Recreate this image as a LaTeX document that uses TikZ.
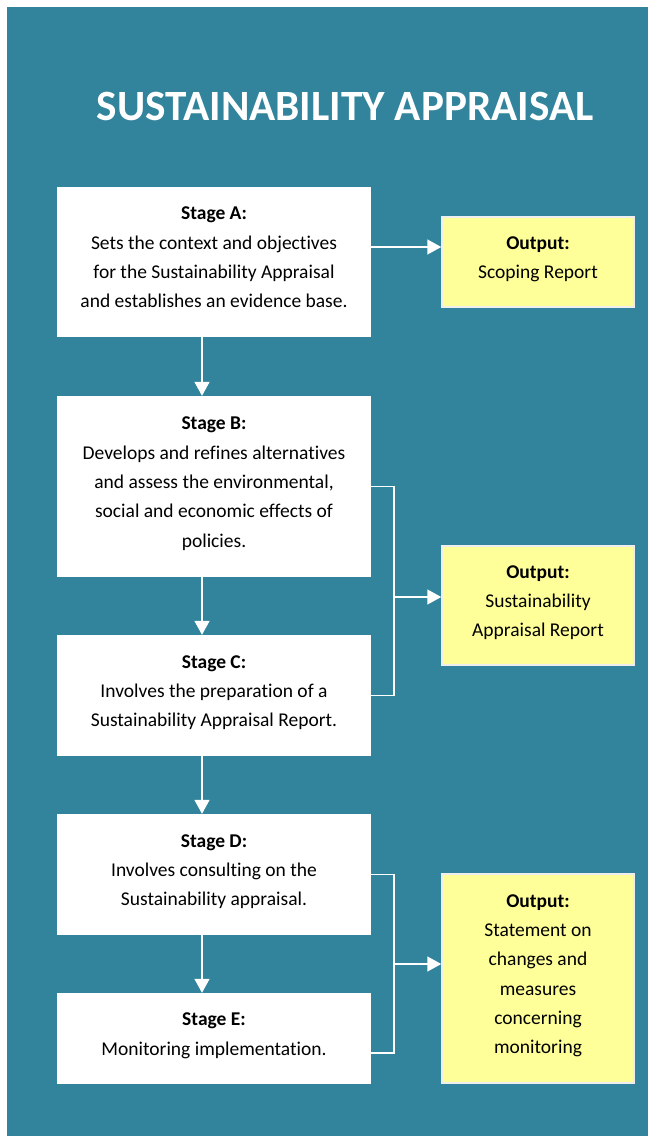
\documentclass[tikz,border=0pt]{standalone}
\usepackage{fontspec}
\setmainfont{Carlito}[Ligatures=NoCommon]
\usepackage{tikz}
\usetikzlibrary{arrows.meta, calc}
\definecolor{saTeal}{HTML}{31849B}
\definecolor{saYellow}{HTML}{FFFF99}
\definecolor{saEdge}{HTML}{EEEEEE}

\begin{document}
\begin{tikzpicture}[
            x=1pt, y=-1pt,
            box/.style={
                rectangle,
                align=center,
                inner sep=0pt,
                font=\fontsize{19.5}{29.3}\selectfont,
                text=black,
                text depth=9pt
            },
            stagebox/.style={box, fill=white, minimum width=314pt},
            outbox/.style={box, fill=saYellow, draw=saEdge, line width=1.5pt, minimum width=192pt},
            title/.style={font=\fontsize{43.2}{48}\bfseries\selectfont, text=white},
            link/.style={draw=white, line width=1.5pt},
            arr/.style={link, -{Triangle[width=15pt, length=14pt]}}
        ]
        \useasboundingbox (0,0) rectangle (648,1136);
        \fill[white] (0,0) rectangle (648,1136);
        \fill[saTeal] (7,7) rectangle (648,1136);

        \node[title] (heading) at (345, 106) {SUSTAINABILITY APPRAISAL};

        % stages
        \node[stagebox, minimum height=150pt] (stageA) at (214, 262)
            {\textbf{Stage A:}\\Sets the context and objectives\\for the Sustainability Appraisal\\and establishes an evidence base.};
        \node[stagebox, minimum height=181pt] (stageB) at (214, 486.5)
            {\textbf{Stage B:}\\Develops and refines alternatives\\and assess the environmental,\\social and economic effects of\\policies.};
        \node[stagebox, minimum height=121pt] (stageC) at (214, 695.5)
            {\textbf{Stage C:}\\Involves the preparation of a\\Sustainability Appraisal Report.};
        \node[stagebox, minimum height=121pt] (stageD) at (214, 874.5)
            {\textbf{Stage D:}\\Involves consulting on the\\Sustainability appraisal.};
        \node[stagebox, minimum height=91pt]  (stageE) at (214, 1038.5)
            {\textbf{Stage E:}\\Monitoring implementation.};

        % outputs
        \node[outbox, minimum height=90pt]  (outA) at (538, 262)
            {\textbf{Output:}\\Scoping Report};
        \node[outbox, minimum height=119pt] (outB) at (538, 605.5)
            {\textbf{Output:}\\Sustainability\\Appraisal Report};
        \node[outbox, minimum height=209pt] (outC) at (538, 978.5)
            {\textbf{Output:}\\Statement on\\changes and\\measures\\concerning\\monitoring};

        \coordinate (xdown) at (202, 0);
        \coordinate (brk)   at (394, 0);
        \coordinate (midBC) at (394, 597);
        \coordinate (midDE) at (394, 964);

        \draw[arr] (stageA.south -| xdown) -- (stageB.north -| xdown);
        \draw[arr] (stageB.south -| xdown) -- (stageC.north -| xdown);
        \draw[arr] (stageC.south -| xdown) -- (stageD.north -| xdown);
        \draw[arr] (stageD.south -| xdown) -- (stageE.north -| xdown);

        \draw[arr] ([yshift=15pt]stageA.east) -- ([yshift=15pt]outA.west);

        \draw[link] (stageB.east) -- (stageB.east -| brk) -- (stageC.east -| brk) -- (stageC.east);
        \draw[arr] (midBC) -- (midBC -| outB.west);

        \draw[link] (stageD.east) -- (stageD.east -| brk) -- ([yshift=-14.5pt]stageE.east -| brk) -- ([yshift=-14.5pt]stageE.east);
        \draw[arr] (midDE) -- (midDE -| outC.west);
\end{tikzpicture}
\end{document}
